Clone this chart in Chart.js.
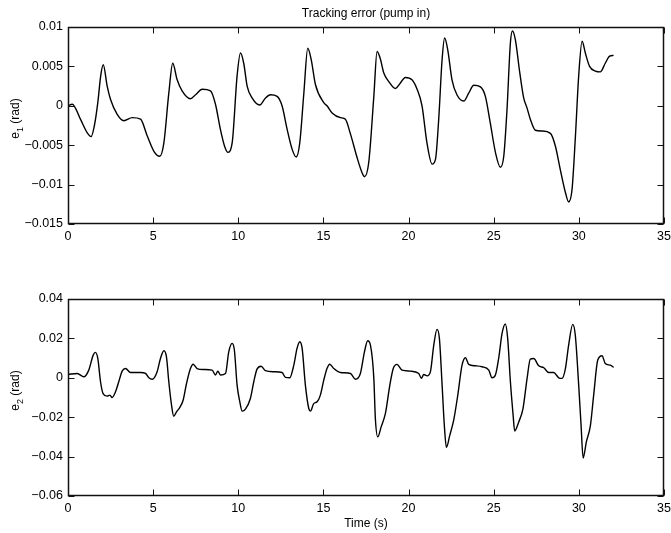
<!DOCTYPE html>
<html>
<head>
<meta charset="utf-8">
<script src="https://cdn.jsdelivr.net/npm/chart.js@4"></script>
<style>
  body { margin: 0; background: #fff; }
  .plot { position: absolute; left: 0; }
</style>
</head>
<body>
<div class="plot" style="top:0"><canvas id="topChart" width="671" height="266"></canvas></div>
<div class="plot" style="top:266px"><canvas id="bottomChart" width="671" height="267"></canvas></div>
<script>
// tracking error, joint 1
const time1 = [0, 0.25, 0.73, 1.12, 1.36, 1.55, 1.75, 1.92, 2.07, 2.3, 2.5, 2.89, 3.28, 3.77, 4.26, 4.65, 5.08, 5.39, 5.63, 5.92,
  6.15, 6.41, 6.7, 7.19, 7.49, 7.88, 8.37, 8.66, 8.95, 9.19, 9.38, 9.64, 9.93, 10.13, 10.32, 10.52, 10.81, 11.26, 11.6, 11.89,
  12.28, 12.57, 12.87, 13.16, 13.4, 13.61, 13.85, 14.08, 14.28, 14.53, 15.02, 15.21, 15.51, 16.0, 16.29, 16.59, 16.98, 17.27,
  17.41, 17.66, 17.96, 18.15, 18.35, 18.54, 18.83, 19.23, 19.52, 19.81, 20.2, 20.5, 20.79, 21.08, 21.38, 21.58, 21.77, 21.97,
  22.12, 22.3, 22.55, 22.84, 23.24, 23.53, 23.83, 24.22, 24.51, 24.8, 25.1, 25.39, 25.59, 25.78, 25.98, 26.1, 26.27, 26.53,
  26.76, 26.96, 27.15, 27.45, 27.84, 28.33, 28.62, 28.91, 29.21, 29.4, 29.6, 29.8, 29.99, 30.19, 30.38, 30.63, 30.97, 31.26,
  31.55, 31.81, 32.04];
const e1 = [0, 0.0002, -0.0017, -0.0034, -0.0039, -0.0025, 0.0004, 0.0038, 0.0052, 0.0025, 0.0008, -0.0011, -0.0019, -0.0015,
  -0.0017, -0.0038, -0.0059, -0.0064, -0.0047, 0.0016, 0.0054, 0.0033, 0.0019, 0.0009, 0.0014, 0.0021, 0.0019, 0.0002, -0.003,
  -0.0051, -0.0059, -0.0047, 0.0038, 0.0067, 0.0054, 0.0025, 0.001, 0.0001, 0.001, 0.0014, 0.0012, 0, -0.003, -0.0055, -0.0065,
  -0.0047, 0.0016, 0.0073, 0.0059, 0.0027, 0.0004, 0, -0.0009, -0.0015, -0.0017, -0.0036, -0.0066, -0.0085, -0.009, -0.0072,
  0.0012, 0.0069, 0.0059, 0.0042, 0.0031, 0.0022, 0.0029, 0.0036, 0.0033, 0.0021, 0, -0.0047, -0.0074, -0.0068, -0.0017, 0.0059,
  0.0086, 0.0071, 0.0033, 0.0014, 0.0006, 0.0016, 0.0026, 0.0024, 0.0012, -0.0022, -0.0059, -0.0078, -0.0064, -0.0005, 0.008,
  0.0095, 0.0084, 0.0042, 0.001, -0.0003, -0.0017, -0.0031, -0.0032, -0.0035, -0.0051, -0.0081, -0.011, -0.0122, -0.0106,
  -0.0038, 0.0038, 0.0082, 0.0067, 0.005, 0.0044, 0.0043, 0.0054, 0.0063, 0.0064];

// tracking error, joint 2
const time2 = [0, 0.54, 0.93, 1.22, 1.48, 1.61, 1.75, 1.91, 2.06, 2.3, 2.46, 2.59, 2.79, 2.98, 3.18, 3.38, 3.67, 4.26, 4.55,
  4.75, 4.94, 5.23, 5.43, 5.63, 5.78, 5.92, 6.08, 6.21, 6.37, 6.56, 6.76, 6.96, 7.19, 7.35, 7.58, 7.97, 8.46, 8.66, 8.8, 8.95,
  9.25, 9.44, 9.64, 9.77, 9.93, 10.09, 10.23, 10.42, 10.71, 10.91, 11.1, 11.34, 11.59, 12.08, 12.57, 12.77, 13.02, 13.26, 13.45,
  13.61, 13.75, 13.94, 14.14, 14.24, 14.43, 14.63, 14.82, 15.02, 15.21, 15.37, 15.61, 16.0, 16.59, 16.88, 17.17, 17.41, 17.6,
  17.76, 17.96, 18.05, 18.19, 18.39, 18.64, 18.9, 19.1, 19.32, 19.62, 20.1, 20.6, 20.75, 20.89, 21.09, 21.28, 21.48, 21.67,
  21.81, 21.97, 22.1, 22.22, 22.42, 22.65, 22.89, 23.14, 23.34, 23.53, 23.92, 24.31, 24.71, 24.9, 25.1, 25.29, 25.49, 25.68,
  25.82, 25.98, 26.14, 26.23, 26.47, 26.72, 26.96, 27.15, 27.35, 27.64, 27.94, 28.23, 28.52, 28.82, 29.01, 29.21, 29.4, 29.64,
  29.79, 29.99, 30.13, 30.25, 30.44, 30.68, 30.87, 31.11, 31.36, 31.55, 31.85, 32.04];
const e2 = [0.0017, 0.0022, 0.0005, 0.0039, 0.0115, 0.0129, 0.0098, -0.002, -0.008, -0.0093, -0.0088, -0.01, -0.0071, -0.002,
  0.0034, 0.0047, 0.0027, 0.0027, 0.0022, 0, -0.0007, 0.003, 0.0098, 0.0137, 0.0107, -0.002, -0.0139, -0.0195, -0.0173, -0.0151,
  -0.0114, -0.0029, 0.0047, 0.0069, 0.0047, 0.0042, 0.0039, 0.0014, 0.0034, 0.0014, 0.0022, 0.0132, 0.0175, 0.0141, -0.0037,
  -0.0122, -0.0169, -0.0159, -0.0105, -0.002, 0.0044, 0.0059, 0.0036, 0.0031, 0.0027, 0.0002, 0, 0.0064, 0.0149, 0.0183, 0.0149,
  -0.0037, -0.0156, -0.0169, -0.0131, -0.0122, -0.0088, -0.0012, 0.0047, 0.0069, 0.0047, 0.0027, 0.0022, -0.0007, 0.0022, 0.0132,
  0.0188, 0.0166, -0.0003, -0.0207, -0.03, -0.0249, -0.0181, -0.0037, 0.0047, 0.0068, 0.0039, 0.0034, 0.0022, -0.0003, 0.0017,
  0.001, 0.003, 0.0166, 0.0246, 0.02, -0.0037, -0.0241, -0.0353, -0.0292, -0.0215, -0.0088, 0.0064, 0.0102, 0.0068, 0.0061,
  0.0056, 0.0039, 0, 0.0014, 0.0098, 0.0225, 0.0273, 0.02, -0.002, -0.019, -0.027, -0.0224, -0.0156, -0.0003, 0.0095, 0.0098,
  0.0061, 0.0051, 0.0027, 0.0027, 0, -0.0003, 0.0047, 0.0166, 0.0271, 0.0217, -0.0037, -0.0241, -0.0407, -0.0325, -0.0241,
  -0.0088, 0.009, 0.0112, 0.0073, 0.0064, 0.0053];

const timeTicks = [0, 5, 10, 15, 20, 25, 30, 35];
const e1Ticks = [-0.015, -0.01, -0.005, 0, 0.005, 0.01];
const e2Ticks = [-0.06, -0.04, -0.02, 0, 0.02, 0.04];

const FONT = '"Liberation Sans", Arial, Helvetica, sans-serif';

function fmt(v) {
    const s = String(Math.round(v * 1000) / 1000);
    return s.replace('-', '\u2212');
}

// matlab style box with inward ticks, plus title and axis labels
const framePlugin = {
    id: 'frame',
    afterDraw(chart, args, opts) {
        const { ctx, chartArea: a, scales: { x, y } } = chart;
        const L = Math.round(a.left) + 0.5, R = Math.round(a.right) - 0.5;
        const T = Math.round(a.top) + 0.5, B = Math.round(a.bottom) - 0.5;
        ctx.save();
        ctx.strokeStyle = '#111';
        ctx.lineWidth = 1.5;
        ctx.lineJoin = 'miter';
        ctx.beginPath();
        ctx.moveTo(L, T);
        ctx.lineTo(R, T);
        ctx.lineTo(R, B);
        ctx.lineTo(L, B);
        ctx.closePath();
        ctx.stroke();

        ctx.lineWidth = 1;
        ctx.beginPath();
        x.ticks.forEach(t => {
            const px = Math.round(x.getPixelForValue(t.value)) + 0.5;
            ctx.moveTo(px, B); ctx.lineTo(px, B - 6);
            ctx.moveTo(px, T); ctx.lineTo(px, T + 6);
        });
        y.ticks.forEach(t => {
            const py = Math.round(y.getPixelForValue(t.value)) + 0.5;
            ctx.moveTo(L, py); ctx.lineTo(L + 6, py);
            ctx.moveTo(R, py); ctx.lineTo(R - 6, py);
        });
        ctx.stroke();

        ctx.fillStyle = '#000';
        const cx = (a.left + a.right) / 2;
        ctx.font = '12px ' + FONT;
        ctx.textAlign = 'center';
        ctx.textBaseline = 'alphabetic';
        if (opts.title) ctx.fillText(opts.title, cx, opts.titleY);
        if (opts.xLabel) ctx.fillText(opts.xLabel, cx, opts.xLabelY);

        // y label with subscript
        ctx.translate(19, (a.top + a.bottom) / 2 - 7);
        ctx.rotate(-Math.PI / 2);
        ctx.textAlign = 'left';
        ctx.font = '12px ' + FONT;
        const wE = ctx.measureText('e').width;
        const wRest = ctx.measureText(' (rad)').width;
        ctx.font = '9px ' + FONT;
        const wSub = ctx.measureText(opts.sub).width;
        const x0 = -(wE + wSub + wRest) / 2;
        ctx.font = '12px ' + FONT;
        ctx.fillText('e', x0, 0);
        ctx.font = '9px ' + FONT;
        ctx.fillText(opts.sub, x0 + wE, 4);
        ctx.font = '12px ' + FONT;
        ctx.fillText(' (rad)', x0 + wE + wSub, 0);
        ctx.restore();
    }
};

function makeChart(id, xs, ys, yTicks, opts) {
    const points = xs.map((t, i) => ({ x: t, y: ys[i] }));
    return new Chart(document.getElementById(id).getContext('2d'), {
        type: 'line',
        data: {
            datasets: [{
                data: points,
                borderColor: '#000',
                borderWidth: 1.4,
                pointRadius: 0,
                cubicInterpolationMode: 'monotone',
                fill: false
            }]
        },
        options: {
            responsive: false,
            animation: false,
            layout: { padding: { top: opts.top, right: 7, left: 0, bottom: 0 } },
            plugins: {
                legend: { display: false },
                tooltip: { enabled: false },
                frame: opts.frame
            },
            scales: {
                x: {
                    type: 'linear',
                    min: 0,
                    max: 35,
                    afterBuildTicks: s => { s.ticks = timeTicks.map(v => ({ value: v })); },
                    afterFit: s => {
                        s.height = opts.xHeight;
                        s.paddingLeft = 0;
                        s.paddingRight = 0;
                    },
                    grid: { display: false, drawTicks: false },
                    border: { display: false },
                    ticks: {
                        color: '#000',
                        padding: 5,
                        maxRotation: 0,
                        font: { family: FONT, size: 12.5 },
                        callback: v => fmt(v)
                    }
                },
                y: {
                    min: yTicks[0],
                    max: yTicks[yTicks.length - 1],
                    afterBuildTicks: s => { s.ticks = yTicks.map(v => ({ value: v })); },
                    afterFit: s => {
                        s.width = 68;
                        s.paddingTop = 0;
                        s.paddingBottom = 0;
                    },
                    grid: { display: false, drawTicks: false },
                    border: { display: false },
                    ticks: {
                        color: '#000',
                        padding: 5,
                        font: { family: FONT, size: 12.5 },
                        callback: v => fmt(v)
                    }
                }
            }
        },
        plugins: [framePlugin]
    });
}

makeChart('topChart', time1, e1, e1Ticks, {
    top: 27, xHeight: 42,
    frame: { title: 'Tracking error (pump in)', titleY: 17, sub: '1' }
});
makeChart('bottomChart', time2, e2, e2Ticks, {
    top: 33, xHeight: 37,
    frame: { xLabel: 'Time (s)', xLabelY: 261, sub: '2' }
});
</script>
</body>
</html>
